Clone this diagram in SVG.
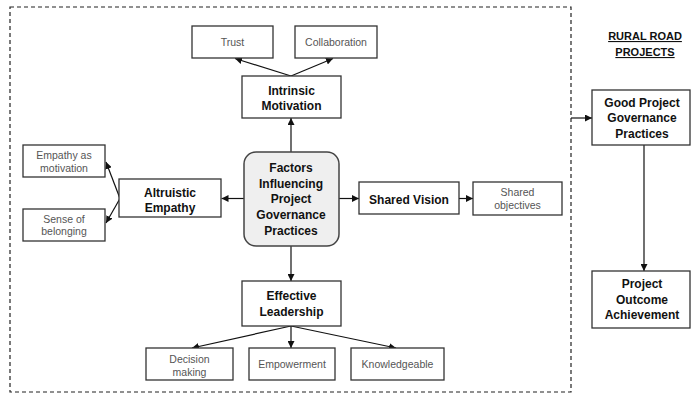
<svg xmlns="http://www.w3.org/2000/svg" width="691" height="394" viewBox="0 0 691 394">
<defs>
<marker id="ah" viewBox="0 0 10 10" refX="10" refY="5" markerWidth="7" markerHeight="7" markerUnits="userSpaceOnUse" orient="auto">
<path d="M0,0 L10,5 L0,10 Z" fill="#111"/>
</marker>
</defs>
<style>
.box{fill:#fff;stroke:#333;stroke-width:1.3}
.hub{fill:#efefef;stroke:#444;stroke-width:1.5}
.b{font-family:"Liberation Sans",Arial,sans-serif;font-weight:bold;font-size:12px;fill:#111;text-anchor:middle}
.r{font-family:"Liberation Sans",Arial,sans-serif;font-size:10.5px;fill:#555;text-anchor:middle}
.c line,.c path{stroke:#111;stroke-width:1.2;fill:none;marker-end:url(#ah)}
.dash{fill:none;stroke:#222;stroke-width:1.2;stroke-dasharray:4 3}
</style>
<rect class="dash" x="10" y="7" width="561" height="385"/>
<g class="c">
<line x1="291" y1="152" x2="291" y2="118"/>
<line x1="291" y1="76" x2="235" y2="58.5"/>
<line x1="291" y1="76" x2="333" y2="58.5"/>
<line x1="244" y1="198.5" x2="221.5" y2="198.5"/>
<line x1="120" y1="198.5" x2="106" y2="162"/>
<line x1="120" y1="198.5" x2="106" y2="223"/>
<line x1="339" y1="198.5" x2="359" y2="198.5"/>
<line x1="459" y1="198.5" x2="473" y2="198.5"/>
<line x1="291" y1="246" x2="291" y2="281"/>
<line x1="291" y1="326" x2="192" y2="348"/>
<line x1="291" y1="326" x2="291" y2="348"/>
<line x1="291" y1="326" x2="396" y2="348"/>
<line x1="571" y1="118" x2="592" y2="118"/>
<line x1="644" y1="145" x2="644" y2="271"/>
</g>
<g id="trust"><rect class="box" x="192" y="26" width="81" height="32"/><text class="r" x="232.5" y="46">Trust</text></g>
<g id="collaboration"><rect class="box" x="295" y="26" width="82" height="32"/><text class="r" x="336" y="46">Collaboration</text></g>
<g id="intrinsic"><rect class="box" x="242" y="76" width="99" height="42"/><text class="b" x="291.5" y="94.5">Intrinsic</text><text class="b" x="291.5" y="110">Motivation</text></g>
<g id="factors"><rect class="hub" x="244" y="152" width="95" height="94" rx="12" ry="12"/>
<text class="b" x="291" y="172">Factors</text><text class="b" x="291" y="187.6">Influencing</text><text class="b" x="291" y="203.3">Project</text><text class="b" x="291" y="219">Governance</text><text class="b" x="291" y="234.5">Practices</text></g>
<g id="altruistic"><rect class="box" x="119" y="179" width="102" height="38"/><text class="b" x="170" y="196.5">Altruistic</text><text class="b" x="170" y="212">Empathy</text></g>
<g id="empathy"><rect class="box" x="23" y="145" width="82" height="32"/><text class="r" x="64" y="159">Empathy as</text><text class="r" x="64" y="171.5">motivation</text></g>
<g id="belonging"><rect class="box" x="23" y="209" width="82" height="32"/><text class="r" x="64" y="223">Sense of</text><text class="r" x="64" y="235">belonging</text></g>
<g id="vision"><rect class="box" x="359" y="182" width="100" height="32"/><text class="b" x="409" y="203.5">Shared Vision</text></g>
<g id="objectives"><rect class="box" x="473" y="182" width="89" height="33"/><text class="r" x="517.5" y="196">Shared</text><text class="r" x="517.5" y="209">objectives</text></g>
<g id="leadership"><rect class="box" x="242" y="281" width="99" height="45"/><text class="b" x="291.5" y="300">Effective</text><text class="b" x="291.5" y="316">Leadership</text></g>
<g id="decision"><rect class="box" x="146" y="348" width="87" height="32"/><text class="r" x="189.5" y="363">Decision</text><text class="r" x="189.5" y="376">making</text></g>
<g id="empowerment"><rect class="box" x="249" y="348" width="86" height="32"/><text class="r" x="292" y="368">Empowerment</text></g>
<g id="knowledgeable"><rect class="box" x="351" y="348" width="93" height="32"/><text class="r" x="397.5" y="368">Knowledgeable</text></g>
<g id="title"><text class="b" x="645" y="40" style="font-size:11px" text-decoration="underline">RURAL ROAD</text><text class="b" x="645" y="56" style="font-size:11px" text-decoration="underline">PROJECTS</text></g>
<g id="good"><rect class="box" x="592" y="90" width="98" height="55"/><text class="b" x="642" y="107">Good Project</text><text class="b" x="642" y="122">Governance</text><text class="b" x="642" y="137.5">Practices</text></g>
<g id="outcome"><rect class="box" x="592" y="271" width="98" height="57"/><text class="b" x="642" y="287.5">Project</text><text class="b" x="642" y="303.5">Outcome</text><text class="b" x="642" y="319">Achievement</text></g>
</svg>
